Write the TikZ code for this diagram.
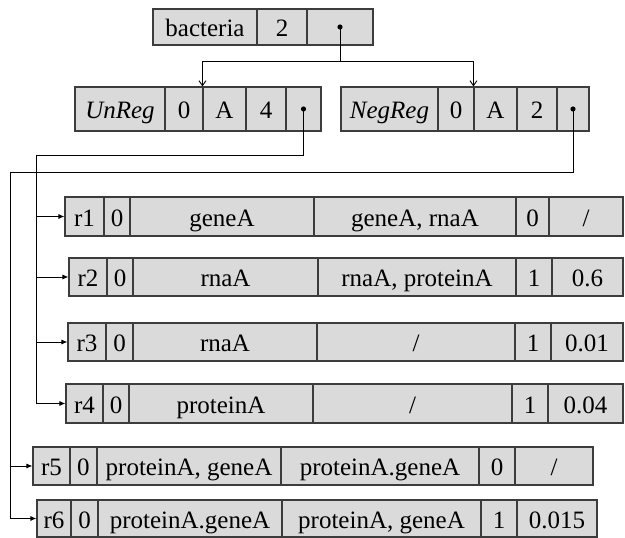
\documentclass[tikz,border=0pt]{standalone}
\usepackage{fontspec}
\setmainfont{Liberation Serif}
\usetikzlibrary{arrows.meta, calc}
\definecolor{cellfill}{RGB}{218, 218, 218}
\definecolor{cellline}{RGB}{60, 60, 60}

% one record: name, top, bottom, list of left/right/text cells
\newcommand{\recordrow}[4]{%
  \foreach \l/\r/\t [count=\i] in {#4}
    \node[cell, minimum width=\r-\l, minimum height=#3-#2] (#1-\i) at ({(\l+\r)/2}, {(#2+#3)/2}) {\t};
}

\begin{document}
\begin{tikzpicture}[x=1pt, y=-1pt,
  cell/.style={draw=cellline, fill=cellfill, line width=1.1pt, inner sep=0pt,
    font=\fontsize{25}{30}\selectfont, text height=22pt, text depth=3pt},
  link/.style={line width=0.9pt, black},
  ptr/.style={-{Latex[length=6pt, width=5pt]}},
  fork/.style={-{Straight Barb[length=5pt, width=7pt]}}]
  \useasboundingbox (0, 0) rectangle (625, 538);

  % Species record
  \recordrow{bac}{9}{45}{153/257/bacteria, 257/307/2, 307/373/{}}

  % Regulation records
  \recordrow{unreg}{87}{131}{75/165/\textit{UnReg}, 165/203/0, 203/246/A, 246/286/4, 286/321/{}}
  \recordrow{negreg}{87}{131}{341/438/\textit{NegReg}, 438/474/0, 474/517/A, 517/557/2, 557/589/{}}

  % Reactions
  \recordrow{r1}{197}{236}{65/104/r1, 104/130/0, 130/314/geneA, 314/516/{geneA, rnaA}, 516/549/0, 549/623/{/}}
  \recordrow{r2}{258}{296}{69/107/r2, 107/133/0, 133/318/rnaA, 318/516/{rnaA, proteinA}, 516/552/1, 552/623/0.6}
  \recordrow{r3}{323}{361}{68/106/r3, 106/133/0, 133/317/rnaA, 317/515/{/}, 515/551/1, 551/623/0.01}
  \recordrow{r4}{384}{423}{66/103/r4, 103/129/0, 129/313/proteinA, 313/512/{/}, 512/548/1, 548/623/0.04}
  \recordrow{r5}{447}{485}{33/70/r5, 70/97/0, 97/281/{proteinA, geneA}, 281/479/proteinA.geneA, 479/515/0, 515/593/{/}}
  \recordrow{r6}{500}{537}{37/71/r6, 71/98/0, 98/282/proteinA.geneA, 282/481/{proteinA, geneA}, 481/517/1, 517/597/0.015}

  % Pointer from the species to its regulations
  \fill (bac-3.center) circle (2.6);
  \coordinate (bsplit) at ($(bac-3.center)+(0, 34)$);
  \draw[link, fork] (bac-3.center) -- (bsplit) -| (unreg-3.north west);
  \draw[link, fork] (bsplit) -| (negreg-3.north west);

  % UnReg list: r1 to r4
  \fill (unreg-5.center) circle (2.6);
  \coordinate (ubus) at (36, 155);
  \draw[link, ptr] (unreg-5.center) |- (ubus) |- (r4-1.west);
  \foreach \k in {1, 2, 3}
    \draw[link, ptr] (ubus |- r\k-1.west) -- (r\k-1.west);

  % NegReg list: r5 and r6
  \fill (negreg-5.center) circle (2.6);
  \coordinate (nbus) at (10, 172);
  \draw[link, ptr] (negreg-5.center) |- (nbus) |- (r6-1.west);
  \draw[link, ptr] (nbus |- r5-1.west) -- (r5-1.west);
\end{tikzpicture}
\end{document}
